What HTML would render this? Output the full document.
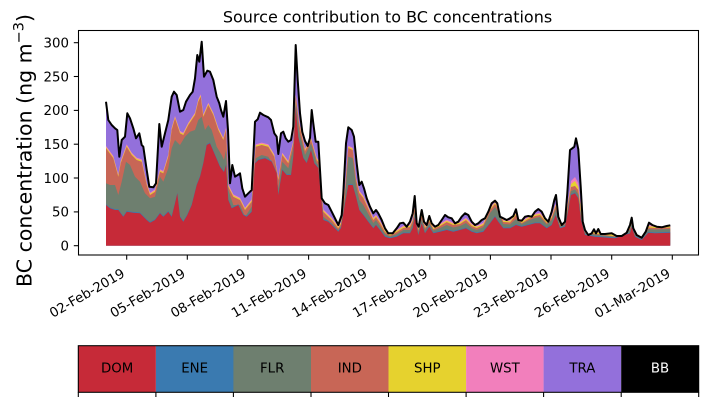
<!DOCTYPE html>
<html>
<head>
<meta charset="utf-8">
<style>
html,body{margin:0;padding:0;background:#fff;}
svg{display:block;}
</style>
</head>
<body>
<svg width="707" height="402" viewBox="0 0 707 402" xmlns="http://www.w3.org/2000/svg" xmlns:xlink="http://www.w3.org/1999/xlink" font-family="'DejaVu Sans','Liberation Sans',sans-serif">
<rect x="0" y="0" width="707" height="402" fill="#fff"/>
<defs>
<polygon id="pT" points="106,245.7 106,101.7 108.3,120 111.7,125 115,128.3 117.3,130 119.3,156.7 121.7,140 125,136.7 127.3,113.3 130,118.3 133.3,128.3 136,138.3 139.3,133.3 141.7,145 143.3,146.7 146.7,170 149.3,186.7 153.3,187.3 156,183.3 159.3,124 161.7,146.7 165,133.3 168.3,120 171.7,96.7 174,91.7 176.7,95 180,111.7 183.3,110 186,101.7 190,95 192.7,91.7 195,78.3 197.3,55 199.3,61.7 201.7,41.7 204,76.7 207.3,70.7 210,71.7 213.3,80 216.7,96.7 219.3,103.3 221,110 223.3,116.7 226,101 228,130 230,183.3 232.3,165 235,176.7 237.7,175 240,173.3 242.3,188.3 245,196.7 248.3,193.3 251.7,190 255,121.7 257.7,119.3 260,112.7 263.3,115 268.3,117.3 271,120 274.3,133.3 276.7,136.7 278.3,154 281,133.3 283.3,131.7 285.7,138.3 288.3,141.7 291,140 293.3,126.7 295.7,45 297.7,80 300,113.3 302.3,132 305,141 307.7,146 310,138 311.7,110 313.3,123.3 315.7,141.7 318.3,141.7 321.7,198.3 325,203.3 328.3,205 331.7,211.7 335,218.3 338.3,225 341.7,215 343.3,193.3 346,143.3 348.3,127.3 351.7,130 354,136.7 356.7,163.3 359.3,185 361.7,181.7 364,188.3 366.7,198.3 370,206.7 373.3,213.3 376,210 378.3,213.3 381.7,220 385,228.3 388.3,233.3 392.7,233.3 396.7,228.3 400,223.3 403.3,222.7 406.7,226.7 410,221.7 412.7,213.3 414.7,196 416.7,223.3 418.7,226.7 421.7,210 424,221.7 426.7,225 429.3,216 431.7,223.3 435,226.7 438.3,225 441.7,220 445,215 448.3,217.3 451.7,218.3 455,223.3 458.3,221.7 461.7,216.7 465,213.3 468.3,215 471.7,221.7 475,225 478.3,223.3 481.7,220 485,218.3 488.3,211.7 491.7,203.3 495,200.7 497.3,203.3 500,216.7 503.3,218.3 506.7,220 510,218.3 513.3,216 516,209.3 518.3,220 521.7,220.7 525,216.7 528.3,216 531.7,216.7 535,211.7 538.3,209 541.7,211.7 545,218.3 548.3,221.7 551.7,211.7 554.3,200 556,195 558.3,216.7 561.7,225 565,221.7 567.3,193.3 570,150 572.3,148.3 574.3,146.7 576,138.3 578.3,149.3 580.7,186.7 582.7,221.7 585,230 588.3,235 591.7,233.3 594,229.3 596,233.3 598.3,229 600.7,234 605,234 611.7,233.3 616.7,236 621.7,236 626.7,232.7 630,225 631.7,217.7 633.3,228.3 636.7,235 641.7,237.7 645.7,231.7 649,222.7 652.3,225 656.7,226.7 661.7,227.3 666.7,226 670.3,225.3 670.3,245.7"/>
<polygon id="pD" points="106,245.7 106,205 110,208.3 115,210 118.3,210 123.3,216.7 126.7,211.7 133.3,212.7 140,213.3 146.7,220 150,222.7 155,220 160,213.3 163.3,216.7 168.3,211.7 171.7,216.7 175,203.3 177.3,193.3 180,216.7 183.3,221.7 187.3,215 191.7,205 196.7,185 200,176.7 203.3,163.3 206.7,145 210,143.3 215,155 220,166.7 224,172 226,165 228.3,200 231.7,208.3 238.3,205 243.3,215 246.7,216.7 251.7,211.7 255,163.3 258.3,160 265,158.3 271.7,161.7 276.7,173.3 278.3,195 282.3,170 286.7,175 291,175 293.3,156.7 295.7,106.7 298.3,136.7 303.3,158 306.7,163 311,150 314.3,163.3 318.3,168 323.3,220 328.3,221.7 331.7,225 338.3,231.7 341,228 345,203.3 348.3,185 352.7,185 356,196.7 359.3,210 363.3,215 368.3,221.7 373.3,228.3 376,225 380,230 385,236.7 390,238.3 396.7,236.7 403.3,233.3 410,233.3 412.7,228 414.7,216.7 418.3,235 421.7,223.3 425,233.3 429.3,226.7 433.3,233.3 440,231.7 446.7,230 453.3,231.7 460,230 466,228.3 471.7,231.7 476.7,233.3 483.3,231.7 490,223.3 495,216.7 498.3,221.7 503.3,228.3 510,228.3 516,225 521.7,226.7 528.3,225 535,223.3 540,223.3 546.7,228.3 551.7,225 555.7,215 560,228.3 565,226.7 568.3,210 571,195 575,193.3 578.3,198.3 581,220 585,235 595,236.7 615,238.3 630,233.3 631.7,226.7 635,236.7 641.7,240 648.3,232.7 655,233.3 670.3,232.7 670.3,245.7"/>
<polygon id="pF" points="106,245.7 106,183.3 110,185 115,185 118.3,195 121.7,181.7 126,161.7 130,165 135,176.7 140,181.7 145,193.3 150,198.3 155,196.7 160,176.7 163.3,181.7 168.3,168.3 171.7,148.3 175,140 180,145 185,136.7 190,131.7 195,130 198.3,120 201.7,116.7 205,130 208.3,125 211.7,130 216.7,146.7 221.7,155 224,160 226,150 228.3,190 233.3,205 240,205 245,216.7 251.7,206.7 255.7,158.3 261.7,155 268.3,156.7 274.3,166.7 278.3,188.3 282.3,161.7 288.3,168.3 293.3,148.3 295.7,101.7 299,130 305,155 311,143.3 316.7,163 318.3,165 323.3,216.7 331.7,223.3 338.3,230 341,226 345,196.7 348.3,156.7 352.7,158 356,185 359.3,200 363.3,205 368.3,214 373.3,223 376,220 380,226 385,234 390,236.5 396.7,234 403.3,230 410,230 412.7,224 414.7,212 418.3,232 421.7,219 425,230 429.3,223 433.3,230.5 440,228 446.7,225 453.3,227.5 460,226 466,223 471.7,228 476.7,230 483.3,227 490,213 495,207 498.3,212 503.3,224 510,224.5 516,219 521.7,224 528.3,220.5 535,218 540,217 546.7,224.5 551.7,220 555.7,209 560,226 565,224.5 568.3,206 571,191 575,189.5 578.3,194 581,216 585,233 595,234.5 615,236.8 630,230 631.7,223 635,235 641.7,239 648.3,229 655,229.5 670.3,229 670.3,245.7"/>
<polygon id="pI" points="106,245.7 106,148.3 113.3,158.3 118.3,176.7 120.7,163.3 126.7,146.7 131.7,155 136.7,160 141.7,161.7 146.7,185 150,195 155,191.7 160,171.7 163.3,173.3 168.3,156.7 171.7,130 175,118.3 180,133.3 183.3,135 188.3,125 195,115 198.3,101.7 200.7,96.7 203.3,116.7 208.3,105 213.3,115 218.3,130 223.3,140 226,130 228.3,186.7 233.3,196.7 240,200 245,210 251.7,201.7 255.7,146.7 261.7,145 268.3,146.7 274.3,156.7 278.3,180 282.3,155 288.3,163.3 293.3,143.3 295.7,96.7 299,123.3 305,151 311,140 316.7,160 318.3,162 323.3,211.7 331.7,220 338.3,228.3 341,224 345,190 348.3,148 352.7,150 356,180 359.3,193 363.3,198 368.3,209 373.3,220 376,217 380,223 385,232 390,235.5 396.7,232 403.3,228 410,227 412.7,221 414.7,208 418.3,230 421.7,216 425,228 429.3,221 433.3,229 440,226 446.7,222 453.3,225 460,224 466,220 471.7,226 476.7,228 483.3,225 490,210 495,204 498.3,209 503.3,222 510,222.5 516,215 521.7,223 528.3,219 535,216 540,215 546.7,223 551.7,218 555.7,206 560,225 565,223.5 568.3,202 571,187 575,186 578.3,190 581,213 585,232 595,233.5 615,236.2 630,228.5 631.7,221 635,234.3 641.7,238.6 648.3,227.5 655,228 670.3,227.5 670.3,245.7"/>
<clipPath id="ct"><use xlink:href="#pT" href="#pT"/></clipPath>
</defs>

<!-- stacked areas -->
<use xlink:href="#pT" href="#pT" fill="#9370db"/>
<g clip-path="url(#ct)">
  <use xlink:href="#pI" href="#pI" fill="#f27fbc" transform="translate(0,-2.4)"/>
  <polygon points="566,230 568.3,202 571,181 575,177 578.3,183 581,207 583,230" fill="#f27fbc"/>
  <use xlink:href="#pI" href="#pI" fill="#e6d22e" transform="translate(0,-1.2)"/>
  <polygon points="567,230 568.6,203 571,184 575,181 578.3,187 581,210 582.5,230" fill="#e6d22e"/>
  <use xlink:href="#pI" href="#pI" fill="#c86656"/>
  <use xlink:href="#pF" href="#pF" fill="#6e7f6f"/>
  <use xlink:href="#pD" href="#pD" fill="#3a7ab0" transform="translate(0,-0.8)"/>
  <use xlink:href="#pD" href="#pD" fill="#c62a38"/>
</g>
<polyline fill="none" stroke="#000" stroke-width="2" stroke-linejoin="round" points="106,101.7 108.3,120 111.7,125 115,128.3 117.3,130 119.3,156.7 121.7,140 125,136.7 127.3,113.3 130,118.3 133.3,128.3 136,138.3 139.3,133.3 141.7,145 143.3,146.7 146.7,170 149.3,186.7 153.3,187.3 156,183.3 159.3,124 161.7,146.7 165,133.3 168.3,120 171.7,96.7 174,91.7 176.7,95 180,111.7 183.3,110 186,101.7 190,95 192.7,91.7 195,78.3 197.3,55 199.3,61.7 201.7,41.7 204,76.7 207.3,70.7 210,71.7 213.3,80 216.7,96.7 219.3,103.3 221,110 223.3,116.7 226,101 228,130 230,183.3 232.3,165 235,176.7 237.7,175 240,173.3 242.3,188.3 245,196.7 248.3,193.3 251.7,190 255,121.7 257.7,119.3 260,112.7 263.3,115 268.3,117.3 271,120 274.3,133.3 276.7,136.7 278.3,154 281,133.3 283.3,131.7 285.7,138.3 288.3,141.7 291,140 293.3,126.7 295.7,45 297.7,80 300,113.3 302.3,132 305,141 307.7,146 310,138 311.7,110 313.3,123.3 315.7,141.7 318.3,141.7 321.7,198.3 325,203.3 328.3,205 331.7,211.7 335,218.3 338.3,225 341.7,215 343.3,193.3 346,143.3 348.3,127.3 351.7,130 354,136.7 356.7,163.3 359.3,185 361.7,181.7 364,188.3 366.7,198.3 370,206.7 373.3,213.3 376,210 378.3,213.3 381.7,220 385,228.3 388.3,233.3 392.7,233.3 396.7,228.3 400,223.3 403.3,222.7 406.7,226.7 410,221.7 412.7,213.3 414.7,196 416.7,223.3 418.7,226.7 421.7,210 424,221.7 426.7,225 429.3,216 431.7,223.3 435,226.7 438.3,225 441.7,220 445,215 448.3,217.3 451.7,218.3 455,223.3 458.3,221.7 461.7,216.7 465,213.3 468.3,215 471.7,221.7 475,225 478.3,223.3 481.7,220 485,218.3 488.3,211.7 491.7,203.3 495,200.7 497.3,203.3 500,216.7 503.3,218.3 506.7,220 510,218.3 513.3,216 516,209.3 518.3,220 521.7,220.7 525,216.7 528.3,216 531.7,216.7 535,211.7 538.3,209 541.7,211.7 545,218.3 548.3,221.7 551.7,211.7 554.3,200 556,195 558.3,216.7 561.7,225 565,221.7 567.3,193.3 570,150 572.3,148.3 574.3,146.7 576,138.3 578.3,149.3 580.7,186.7 582.7,221.7 585,230 588.3,235 591.7,233.3 594,229.3 596,233.3 598.3,229 600.7,234 605,234 611.7,233.3 616.7,236 621.7,236 626.7,232.7 630,225 631.7,217.7 633.3,228.3 636.7,235 641.7,237.7 645.7,231.7 649,222.7 652.3,225 656.7,226.7 661.7,227.3 666.7,226 670.3,225.3"/>

<!-- axes frame -->
<rect x="78.5" y="30.5" width="620" height="224.5" fill="none" stroke="#000" stroke-width="1.07"/>

<!-- y ticks -->
<g stroke="#000" stroke-width="1.07">
  <line x1="73.8" y1="245.7" x2="78.5" y2="245.7"/>
  <line x1="73.8" y1="211.9" x2="78.5" y2="211.9"/>
  <line x1="73.8" y1="178.0" x2="78.5" y2="178.0"/>
  <line x1="73.8" y1="144.2" x2="78.5" y2="144.2"/>
  <line x1="73.8" y1="110.4" x2="78.5" y2="110.4"/>
  <line x1="73.8" y1="76.5" x2="78.5" y2="76.5"/>
  <line x1="73.8" y1="42.7" x2="78.5" y2="42.7"/>
</g>
<g font-size="13.33" fill="#000" text-anchor="end">
  <text x="69" y="250.5">0</text>
  <text x="69" y="216.7">50</text>
  <text x="69" y="182.8">100</text>
  <text x="69" y="149.0">150</text>
  <text x="69" y="115.2">200</text>
  <text x="69" y="81.3">250</text>
  <text x="69" y="47.5">300</text>
</g>

<!-- x ticks -->
<g stroke="#000" stroke-width="1.07">
  <line x1="126.7" y1="255" x2="126.7" y2="259.7"/>
  <line x1="187.3" y1="255" x2="187.3" y2="259.7"/>
  <line x1="247.9" y1="255" x2="247.9" y2="259.7"/>
  <line x1="308.6" y1="255" x2="308.6" y2="259.7"/>
  <line x1="369.2" y1="255" x2="369.2" y2="259.7"/>
  <line x1="429.8" y1="255" x2="429.8" y2="259.7"/>
  <line x1="490.4" y1="255" x2="490.4" y2="259.7"/>
  <line x1="551.0" y1="255" x2="551.0" y2="259.7"/>
  <line x1="611.7" y1="255" x2="611.7" y2="259.7"/>
  <line x1="672.3" y1="255" x2="672.3" y2="259.7"/>
</g>
<g font-size="13.33" fill="#000" text-anchor="end">
  <text transform="translate(125.7,276) rotate(-30)">02-Feb-2019</text>
  <text transform="translate(186.3,276) rotate(-30)">05-Feb-2019</text>
  <text transform="translate(246.9,276) rotate(-30)">08-Feb-2019</text>
  <text transform="translate(307.6,276) rotate(-30)">11-Feb-2019</text>
  <text transform="translate(368.2,276) rotate(-30)">14-Feb-2019</text>
  <text transform="translate(428.8,276) rotate(-30)">17-Feb-2019</text>
  <text transform="translate(489.4,276) rotate(-30)">20-Feb-2019</text>
  <text transform="translate(550.0,276) rotate(-30)">23-Feb-2019</text>
  <text transform="translate(610.7,276) rotate(-30)">26-Feb-2019</text>
  <text transform="translate(671.3,276) rotate(-30)">01-Mar-2019</text>
</g>

<!-- title -->
<text x="387.5" y="22.7" font-size="16" text-anchor="middle" fill="#000">Source contribution to BC concentrations</text>

<!-- y label -->
<text transform="translate(31.5,150.5) rotate(-90)" font-size="20.5" text-anchor="middle" fill="#000">BC concentration (ng m<tspan font-size="14.5" dy="-8">−3</tspan><tspan dy="8">)</tspan></text>

<!-- colorbar legend -->
<g>
  <rect x="78.3" y="345.7" width="77.6" height="46.6" fill="#c62a38"/>
  <rect x="155.9" y="345.7" width="77.6" height="46.6" fill="#3a7ab0"/>
  <rect x="233.4" y="345.7" width="77.6" height="46.6" fill="#6e7f6f"/>
  <rect x="311.0" y="345.7" width="77.6" height="46.6" fill="#c86656"/>
  <rect x="388.5" y="345.7" width="77.6" height="46.6" fill="#e6d22e"/>
  <rect x="466.1" y="345.7" width="77.6" height="46.6" fill="#f27fbc"/>
  <rect x="543.6" y="345.7" width="77.6" height="46.6" fill="#9370db"/>
  <rect x="621.2" y="345.7" width="77.5" height="46.6" fill="#000"/>
  <rect x="78.3" y="345.7" width="620.4" height="46.6" fill="none" stroke="#000" stroke-width="1.07"/>
</g>
<g font-size="13.33" text-anchor="middle" fill="#000">
  <text x="117.1" y="372.5">DOM</text>
  <text x="194.6" y="372.5">ENE</text>
  <text x="272.2" y="372.5">FLR</text>
  <text x="349.8" y="372.5">IND</text>
  <text x="427.3" y="372.5">SHP</text>
  <text x="504.9" y="372.5">WST</text>
  <text x="582.4" y="372.5">TRA</text>
  <text x="660.0" y="372.5" fill="#fff">BB</text>
</g>
<g stroke="#000" stroke-width="1.07">
  <line x1="78.3" y1="392.3" x2="78.3" y2="397"/>
  <line x1="155.9" y1="392.3" x2="155.9" y2="397"/>
  <line x1="233.4" y1="392.3" x2="233.4" y2="397"/>
  <line x1="311.0" y1="392.3" x2="311.0" y2="397"/>
  <line x1="388.5" y1="392.3" x2="388.5" y2="397"/>
  <line x1="466.1" y1="392.3" x2="466.1" y2="397"/>
  <line x1="543.6" y1="392.3" x2="543.6" y2="397"/>
  <line x1="621.2" y1="392.3" x2="621.2" y2="397"/>
  <line x1="698.7" y1="392.3" x2="698.7" y2="397"/>
</g>
</svg>
</body>
</html>
